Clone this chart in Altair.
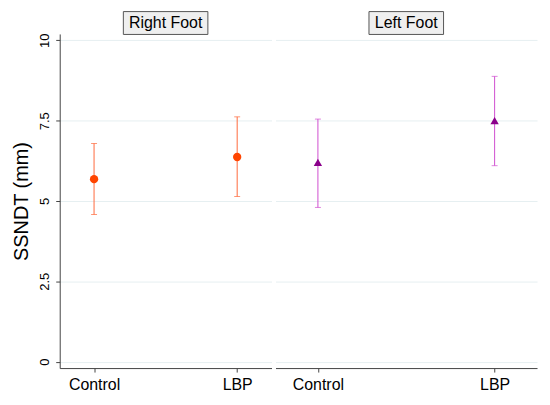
import altair as alt
import pandas as pd

feet = ["Right Foot", "Right Foot", "Left Foot", "Left Foot"]
groups = ["Control", "LBP", "Control", "LBP"]
means = [5.68, 6.37, 6.20, 7.50]
lower = [4.58, 5.14, 4.80, 6.10]
upper = [6.79, 7.62, 7.55, 8.88]
y_ticks = [0, 2.5, 5, 7.5, 10]

df = pd.DataFrame({"foot": feet, "group": groups, "mean": means,
                   "lower": lower, "upper": upper})

FONT = "Liberation Sans"
GRID = "#e6eff1"
AXIS = "#444444"
H = 336


def panel(foot, width, pcolor, bcolor, shape, boxw, first):
    d = df[df.foot == foot]
    xenc = alt.X("group:N", sort=["Control", "LBP"],
                 scale=alt.Scale(type="point", padding=0.24),
                 axis=alt.Axis(title=None, labelAngle=0, labelFontSize=16, labelFont=FONT,
                               labelColor="black", labelPadding=5, tickSize=4,
                               tickColor=AXIS, domainColor=AXIS, grid=False))
    yscale = alt.Scale(domain=[-0.2, 10.2], nice=False, zero=False)
    if first:
        yaxis = alt.Axis(title="SSNDT (mm)", values=y_ticks, labelExpr="'' + datum.value",
                         labelAngle=-90, labelFontSize=13, labelFont=FONT, labelColor="black",
                         labelPadding=4, tickSize=4, tickColor=AXIS, domainColor=AXIS,
                         gridColor=GRID, titleFont=FONT, titleFontSize=20,
                         titleFontWeight="normal", titleColor="black", titlePadding=7)
    else:
        yaxis = alt.Axis(title=None, values=y_ticks, labels=False, ticks=False,
                         domain=False, gridColor=GRID)
    rule = alt.Chart(d).mark_rule(color=bcolor, strokeWidth=1).encode(
        x=xenc, y=alt.Y("lower:Q", scale=yscale, axis=yaxis), y2="upper:Q")
    cap_lo = alt.Chart(d).mark_tick(color=bcolor, size=6, thickness=1,
                                    orient="horizontal").encode(
        x=xenc, y=alt.Y("lower:Q", scale=yscale))
    cap_hi = alt.Chart(d).mark_tick(color=bcolor, size=6, thickness=1,
                                    orient="horizontal").encode(
        x=xenc, y=alt.Y("upper:Q", scale=yscale))
    pts = alt.Chart(d).mark_point(shape=shape, filled=True, size=70, color=pcolor,
                                  opacity=1).encode(
        x=xenc, y=alt.Y("mean:Q", scale=yscale))
    lab = pd.DataFrame({"label": [foot]})
    box = alt.Chart(lab).mark_rect(fill="#efefef", stroke="#555555", strokeWidth=1).encode(
        x=alt.value(width / 2 - boxw / 2), x2=alt.value(width / 2 + boxw / 2),
        y=alt.value(-22.5), y2=alt.value(0.5))
    txt = alt.Chart(lab).mark_text(fontSize=16, font=FONT, color="black",
                                   baseline="middle", align="center").encode(
        text="label:N", x=alt.value(width / 2), y=alt.value(-11))
    return alt.layer(rule, cap_lo, cap_hi, pts, box, txt).properties(width=width, height=H)


left = panel("Right Foot", 213, "#ff4500", "#ff6a3c", "circle", 85, True)
right = panel("Left Foot", 263, "#8b008b", "#d04fd0", "triangle-up", 75, False)

chart = alt.hconcat(left, right, spacing=4).resolve_scale(y="independent").configure_view(
    stroke=None).properties(padding={"left": 3, "top": 2, "right": 5, "bottom": 5},
                            background="white")

chart.save("out.html", embed_options={"renderer": "svg", "actions": False})
